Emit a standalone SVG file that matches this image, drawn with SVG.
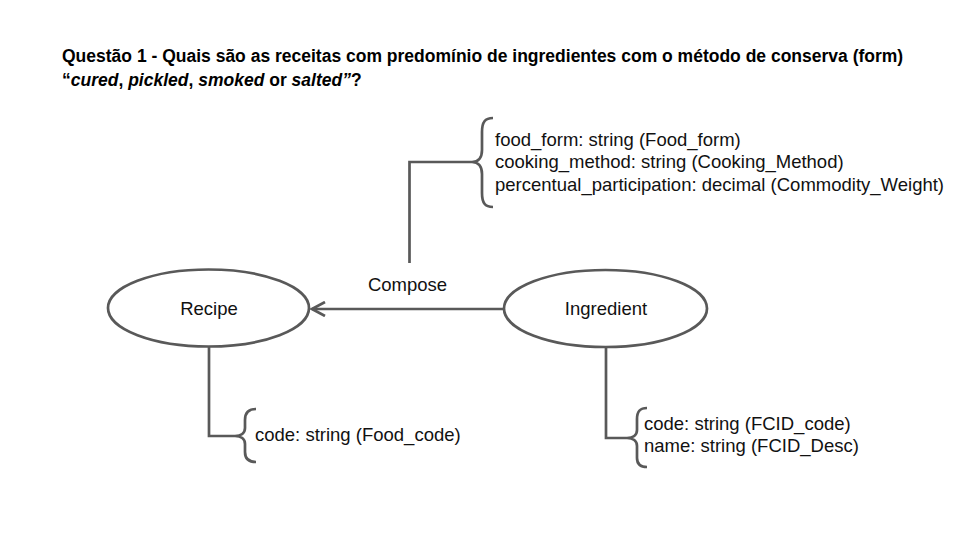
<svg xmlns="http://www.w3.org/2000/svg" width="960" height="540" viewBox="0 0 960 540">
<defs>
<style>
.t{font-family:"Liberation Sans",Arial,sans-serif;font-size:18.5px;fill:#111}
.title{font-family:"Liberation Sans",Arial,sans-serif;font-size:17.5px;font-weight:bold;fill:#000}
.ln{fill:none;stroke:#595959;stroke-width:2.7}
.node{fill:#fff;stroke:#595959;stroke-width:2.7}
</style>
<marker id="arr" markerWidth="16" markerHeight="16" refX="14" refY="8" orient="auto" markerUnits="userSpaceOnUse" viewBox="0 0 16 16">
<path d="M1,1 L14,8 L1,15" fill="none" stroke="#595959" stroke-width="2.7"/>
</marker>
</defs>
<rect width="960" height="540" fill="#fff"/>
<g id="title">
<text class="title" x="62" y="62">Questão 1 - Quais são as receitas com predomínio de ingredientes com o método de conserva (form)</text>
<text class="title" x="62" y="86">“<tspan font-style="italic">cured</tspan>, <tspan font-style="italic">pickled</tspan>, <tspan font-style="italic">smoked</tspan> or <tspan font-style="italic">salted”</tspan>?</text>
</g>
<g id="connectors">
<line class="ln" x1="503" y1="309" x2="312" y2="309" marker-end="url(#arr)"/>
<polyline class="ln" points="409.5,263 409.5,162 472,162"/>
<polyline class="ln" points="209,347 209,436 235,436"/>
<polyline class="ln" points="606,347 606,438 627,438"/>
<text class="t" x="407.5" y="291" text-anchor="middle">Compose</text>
</g>
<g id="recipe">
<ellipse class="node" cx="208.5" cy="308" rx="100.5" ry="38.5"/>
<text class="t" x="209" y="315" text-anchor="middle">Recipe</text>
</g>
<g id="ingredient">
<ellipse class="node" cx="605.5" cy="308.5" rx="101.5" ry="38.5"/>
<text class="t" x="606" y="315" text-anchor="middle">Ingredient</text>
</g>
<g id="compose-attrs">
<path class="ln" d="M493,118 C485,118 482,122 482,132 L482,150 C482,158 478,162 472,162 C478,162 482,166 482,174 L482,193 C482,203 485,207 493,207"/>
<text class="t" x="495" y="146">food_form: string (Food_form)</text>
<text class="t" x="495" y="168">cooking_method: string (Cooking_Method)</text>
<text class="t" x="495" y="191">percentual_participation: decimal (Commodity_Weight)</text>
</g>
<g id="recipe-attrs">
<path class="ln" d="M256,409 C249,409 245,412 245,420 L245,428 C245,433 241,436 235,436 C241,436 245,439 245,444 L245,452 C245,459 249,462 256,462"/>
<text class="t" x="255" y="441">code: string (Food_code)</text>
</g>
<g id="ingredient-attrs">
<path class="ln" d="M647,408 C640,408 637,411 637,419 L637,430 C637,435 633,438 627,438 C633,438 637,441 637,446 L637,458 C637,464 640,467 647,467"/>
<text class="t" x="644" y="430">code: string (FCID_code)</text>
<text class="t" x="644" y="452">name: string (FCID_Desc)</text>
</g>
</svg>
